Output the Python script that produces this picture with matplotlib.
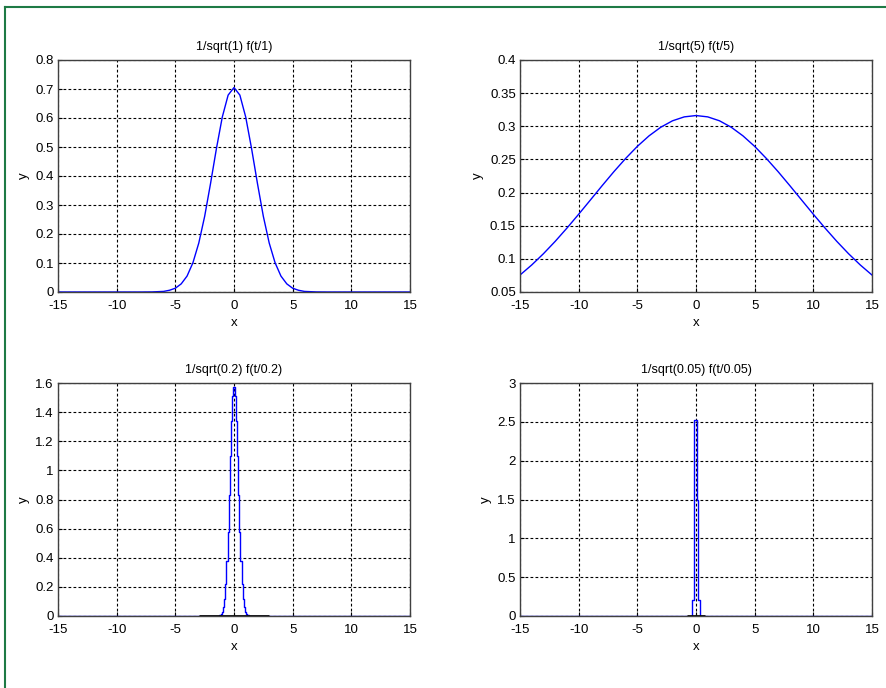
import matplotlib
matplotlib.use('Agg')
import matplotlib.pyplot as plt
from matplotlib.lines import Line2D
from matplotlib.ticker import FuncFormatter

plt.rcParams['font.family'] = ['Liberation Sans', 'DejaVu Sans']
plt.rcParams['font.size'] = 9.5
plt.rcParams['axes.unicode_minus'] = False

# values
x1 = [-15, -8, -7, -6, -5.5, -5, -4.5, -4, -3.5, -3, -2.5, -2, -1.5, -1, -0.5, 0,
      0.5, 1, 1.5, 2, 2.5, 3, 3.5, 4, 4.5, 5, 5.5, 6, 7, 8, 15]
y1 = [0, 0, 0.0003, 0.002, 0.006, 0.013, 0.028, 0.055, 0.101, 0.169, 0.261, 0.374, 0.494, 0.603, 0.679, 0.705,
      0.679, 0.603, 0.494, 0.374, 0.261, 0.169, 0.101, 0.055, 0.028, 0.013, 0.006, 0.002, 0.0003, 0, 0]

x2 = [-15, -14, -13, -12, -11, -10, -9, -8, -7, -6, -5, -4, -3, -2, -1, 0,
      1, 2, 3, 4, 5, 6, 7, 8, 9, 10, 11, 12, 13, 14, 15]
y2 = [0.0756, 0.0908, 0.1078, 0.1264, 0.1464, 0.1673, 0.1888, 0.2104, 0.2315, 0.2514, 0.2697,
      0.2856, 0.2986, 0.3083, 0.3142, 0.3162, 0.3142, 0.3083, 0.2986, 0.2856, 0.2697, 0.2514,
      0.2315, 0.2104, 0.1888, 0.1673, 0.1464, 0.1264, 0.1078, 0.0908, 0.0756]

x3 = [-15, -1.3, -1.2, -1.1, -1.0, -0.9, -0.8, -0.7, -0.6, -0.5, -0.4, -0.3, -0.2, -0.1, 0,
      0.1, 0.2, 0.3, 0.4, 0.5, 0.6, 0.7, 0.8, 0.9, 1.0, 1.1, 1.2, 1.3, 15]
y3 = [0, 0, 0.005, 0.013, 0.03, 0.06, 0.12, 0.22, 0.38, 0.58, 0.83, 1.10, 1.34, 1.51, 1.57,
      1.51, 1.34, 1.10, 0.83, 0.58, 0.38, 0.22, 0.12, 0.06, 0.03, 0.013, 0.005, 0, 0]

x4 = [-15, -0.3, -0.15, 0.1, 0.2, 0.3, 15]
y4 = [0, 0.2, 2.52, 1.5, 0.2, 0, 0]

titles = ['1/sqrt(1) f(t/1)', '1/sqrt(5) f(t/5)', '1/sqrt(0.2) f(t/0.2)', '1/sqrt(0.05) f(t/0.05)']
ylims = [(0, 0.8), (0.05, 0.4), (0, 1.6), (0, 3)]
ysteps = [0.1, 0.05, 0.2, 0.5]
black_span = [None, None, 3.0, 0.75]
xticks = [-15, -10, -5, 0, 5, 10, 15]

W, H = 887, 688
fig = plt.figure(figsize=(W / 100, H / 100), dpi=100)

# axes boxes in pixels: left, top, right, bottom
boxes = [(58, 60, 410, 292), (520, 60, 872, 292), (58, 383, 410, 616), (520, 383, 872, 616)]
data = [(x1, y1, 'line'), (x2, y2, 'line'), (x3, y3, 'mid'), (x4, y4, 'post')]

for i in range(4):
    l, t, r, b = boxes[i]
    ax = fig.add_axes([l / W, 1 - b / H, (r - l) / W, (b - t) / H])
    xs, ys, kind = data[i]
    if kind == 'line':
        ax.plot(xs, ys, color='#0000ff', lw=1)
    else:
        ax.step(xs, ys, where=kind, color='#0000ff', lw=1)
    if black_span[i] is not None:
        s = black_span[i]
        ax.plot([-s, s], [0, 0], color='black', lw=2, solid_capstyle='butt')
    ax.set_xlim(-15, 15)
    ax.set_ylim(*ylims[i])
    lo, hi = ylims[i]
    n = int(round((hi - lo) / ysteps[i]))
    ax.set_yticks([lo + k * ysteps[i] for k in range(n + 1)])
    ax.set_xticks(xticks)
    ax.yaxis.set_major_formatter(FuncFormatter(lambda v, p: '%g' % round(v, 4)))
    ax.grid(True, color='black', linestyle=(0, (2.5, 2)), lw=0.8)
    ax.tick_params(direction='in', length=3, colors='black')
    ax.tick_params(axis='x', pad=5.5)
    ax.tick_params(axis='y', pad=3)
    for sp in ax.spines.values():
        sp.set_color('#404040')
        sp.set_linewidth(1)
    ax.set_title(titles[i], fontsize=9, pad=7)
    ax.set_xlabel('x', labelpad=4)
    ax.set_ylabel('y', labelpad=4)

# green frame around the figure (runs past the right and bottom edges)
fig.add_artist(Line2D([5 / W, 5 / W], [0, 1 - 7 / H], color='#1e7a45', lw=1.5))
fig.add_artist(Line2D([5 / W, 1], [1 - 7 / H, 1 - 7 / H], color='#1e7a45', lw=1.5))

fig.savefig('out.png', dpi=100)
